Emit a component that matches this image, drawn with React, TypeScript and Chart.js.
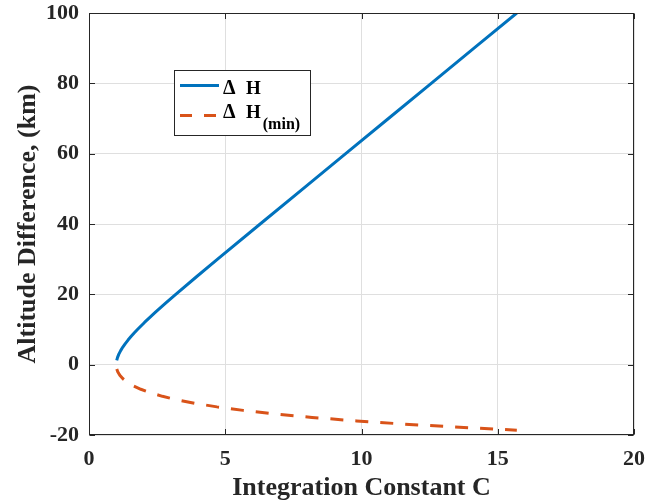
import React, { useEffect, useRef } from "react";
import { Chart, registerables } from "chart.js";

Chart.register(...registerables);

// Upper branch: altitude difference ΔH (km) and integration constant C
const upperH = [1.2, 2, 3, 4, 5, 6, 7, 8, 9, 10, 12, 15, 17.5, 20, 25, 30, 40, 50, 60, 70, 80, 90, 100];
const upperC = [1.017, 1.045, 1.095, 1.162, 1.241, 1.332, 1.432, 1.541, 1.656, 1.778, 2.036, 2.45, 2.811, 3.183, 3.945, 4.719, 6.281, 7.849, 9.419, 10.989, 12.559, 14.129, 15.699];

// Lower branch: ΔH(min)
const lowerH = [-1.2, -2, -3, -4, -5, -6, -7, -8, -9, -10, -11, -12, -13, -14, -15, -16, -17, -18, -18.63];
const lowerC = [1.019, 1.055, 1.131, 1.246, 1.407, 1.623, 1.902, 2.255, 2.695, 3.237, 3.896, 4.696, 5.657, 6.808, 8.183, 9.818, 11.756, 14.05, 15.7];

const xTicks = [0, 5, 10, 15, 20];
const yTicks = [-20, 0, 20, 40, 60, 80, 100];
const xTitle = "Integration Constant C";
const yTitle = "Altitude Difference, (km)";
const legendMain = ["Δ H", "Δ H"];
const legendSub = ["", "(min)"];
const seriesColors = ["#0072BD", "#D95319"];

const FONT = "'Liberation Serif', 'Times New Roman', serif";
const AXIS_COLOR = "#262626";

const boxPlugin = {
  id: "matlabBox",
  afterDatasetsDraw(chart: any) {
    const { ctx, chartArea: a, scales } = chart;
    const L = Math.round(a.left) + 0.5;
    const T = Math.round(a.top) + 0.5;
    const R = Math.round(a.right) - 0.5;
    const B = Math.round(a.bottom) - 0.5;
    const tl = 5.5;
    ctx.save();
    ctx.strokeStyle = AXIS_COLOR;
    ctx.lineWidth = 1;
    ctx.strokeRect(L, T, R - L, B - T);
    ctx.beginPath();
    xTicks.forEach((v) => {
      const px = Math.round(scales.x.getPixelForValue(v)) + 0.5;
      ctx.moveTo(px, B);
      ctx.lineTo(px, B - tl);
      ctx.moveTo(px, T);
      ctx.lineTo(px, T + tl);
    });
    yTicks.forEach((v) => {
      const py = Math.round(scales.y.getPixelForValue(v)) + 0.5;
      ctx.moveTo(L, py);
      ctx.lineTo(L + tl, py);
      ctx.moveTo(R, py);
      ctx.lineTo(R - tl, py);
    });
    ctx.stroke();
    ctx.restore();
  },
  afterDraw(chart: any) {
    const { ctx } = chart;
    ctx.save();
    // legend box
    const bx = 174.5, by = 70.5, bw = 136, bh = 65;
    ctx.fillStyle = "#ffffff";
    ctx.fillRect(bx, by, bw, bh);
    ctx.strokeStyle = AXIS_COLOR;
    ctx.lineWidth = 1;
    ctx.strokeRect(bx, by, bw, bh);

    const lineY = [85.5, 115.5];
    const textY = [94, 117.5];
    for (let i = 0; i < 2; i++) {
      ctx.beginPath();
      ctx.strokeStyle = seriesColors[i];
      ctx.lineWidth = 3;
      ctx.setLineDash(i === 1 ? [12, 12] : []);
      ctx.moveTo(180, lineY[i]);
      ctx.lineTo(219, lineY[i]);
      ctx.stroke();
      ctx.setLineDash([]);

      ctx.fillStyle = "#000000";
      ctx.textBaseline = "alphabetic";
      ctx.textAlign = "left";
      ctx.font = `bold 20px ${FONT}`;
      const parts = legendMain[i].split(" ");
      ctx.fillText(parts[0], 223, textY[i]);
      ctx.font = `bold 19px ${FONT}`;
      let x = 246;
      ctx.fillText(parts[1], x, textY[i]);
      x += ctx.measureText(parts[1]).width + 2;
      if (legendSub[i]) {
        ctx.font = `bold 16px ${FONT}`;
        ctx.fillText(legendSub[i], x, 128.5);
      }
    }
    ctx.restore();
  },
};

export default function App() {
  const ref = useRef<HTMLCanvasElement>(null);

  useEffect(() => {
    if (!ref.current) return;
    const chart = new Chart(ref.current, {
      type: "scatter",
      data: {
        datasets: [
          {
            label: legendMain[0],
            data: upperC.map((c, i) => ({ x: c, y: upperH[i] })),
            borderColor: seriesColors[0],
            backgroundColor: seriesColors[0],
            borderWidth: 3,
            pointRadius: 0,
            showLine: true,
            tension: 0,
            borderJoinStyle: "round",
          },
          {
            label: legendMain[1] + legendSub[1],
            data: lowerC.map((c, i) => ({ x: c, y: lowerH[i] })),
            borderColor: seriesColors[1],
            backgroundColor: seriesColors[1],
            borderWidth: 3,
            borderDash: [13, 12],
            pointRadius: 0,
            showLine: true,
            tension: 0,
            borderJoinStyle: "round",
          },
        ],
      },
      options: {
        responsive: false,
        animation: false,
        devicePixelRatio: 1,
        events: [],
        layout: { padding: { left: 0, right: 27, top: 13, bottom: 0 } },
        plugins: {
          legend: { display: false },
          tooltip: { enabled: false },
        },
        scales: {
          x: {
            type: "linear",
            min: 0,
            max: 20,
            afterBuildTicks: (axis: any) => {
              axis.ticks = xTicks.map((v) => ({ value: v }));
            },
            afterFit: (axis: any) => {
              axis.height = 69;
              axis.paddingLeft = 0;
              axis.paddingRight = 0;
            },
            grid: { color: "#dfdfdf", lineWidth: 1, drawTicks: false },
            border: { display: false },
            ticks: {
              padding: 11,
              color: AXIS_COLOR,
              font: { family: FONT, size: 22, weight: "bold" },
              maxRotation: 0,
            },
            title: {
              display: true,
              text: xTitle,
              color: AXIS_COLOR,
              font: { family: FONT, size: 26, weight: "bold" },
              padding: { top: 0, bottom: 0 },
            },
          },
          y: {
            type: "linear",
            min: -20,
            max: 100,
            afterBuildTicks: (axis: any) => {
              axis.ticks = yTicks.map((v) => ({ value: v }));
            },
            afterFit: (axis: any) => {
              axis.width = 89;
              axis.paddingTop = 0;
              axis.paddingBottom = 0;
            },
            grid: { color: "#dfdfdf", lineWidth: 1, drawTicks: false },
            border: { display: false },
            ticks: {
              padding: 10,
              color: AXIS_COLOR,
              font: { family: FONT, size: 22, weight: "bold" },
            },
            title: {
              display: true,
              text: yTitle,
              color: AXIS_COLOR,
              font: { family: FONT, size: 26, weight: "bold" },
              padding: { top: 13, bottom: 0 },
            },
          },
        },
      },
      plugins: [boxPlugin],
    } as any);
    return () => chart.destroy();
  }, []);

  return (
    <div style={{ position: "fixed", left: 0, top: 0, width: 661, height: 504, background: "#ffffff" }}>
      <canvas ref={ref} width={661} height={504} style={{ display: "block", width: 661, height: 504 }} />
    </div>
  );
}
